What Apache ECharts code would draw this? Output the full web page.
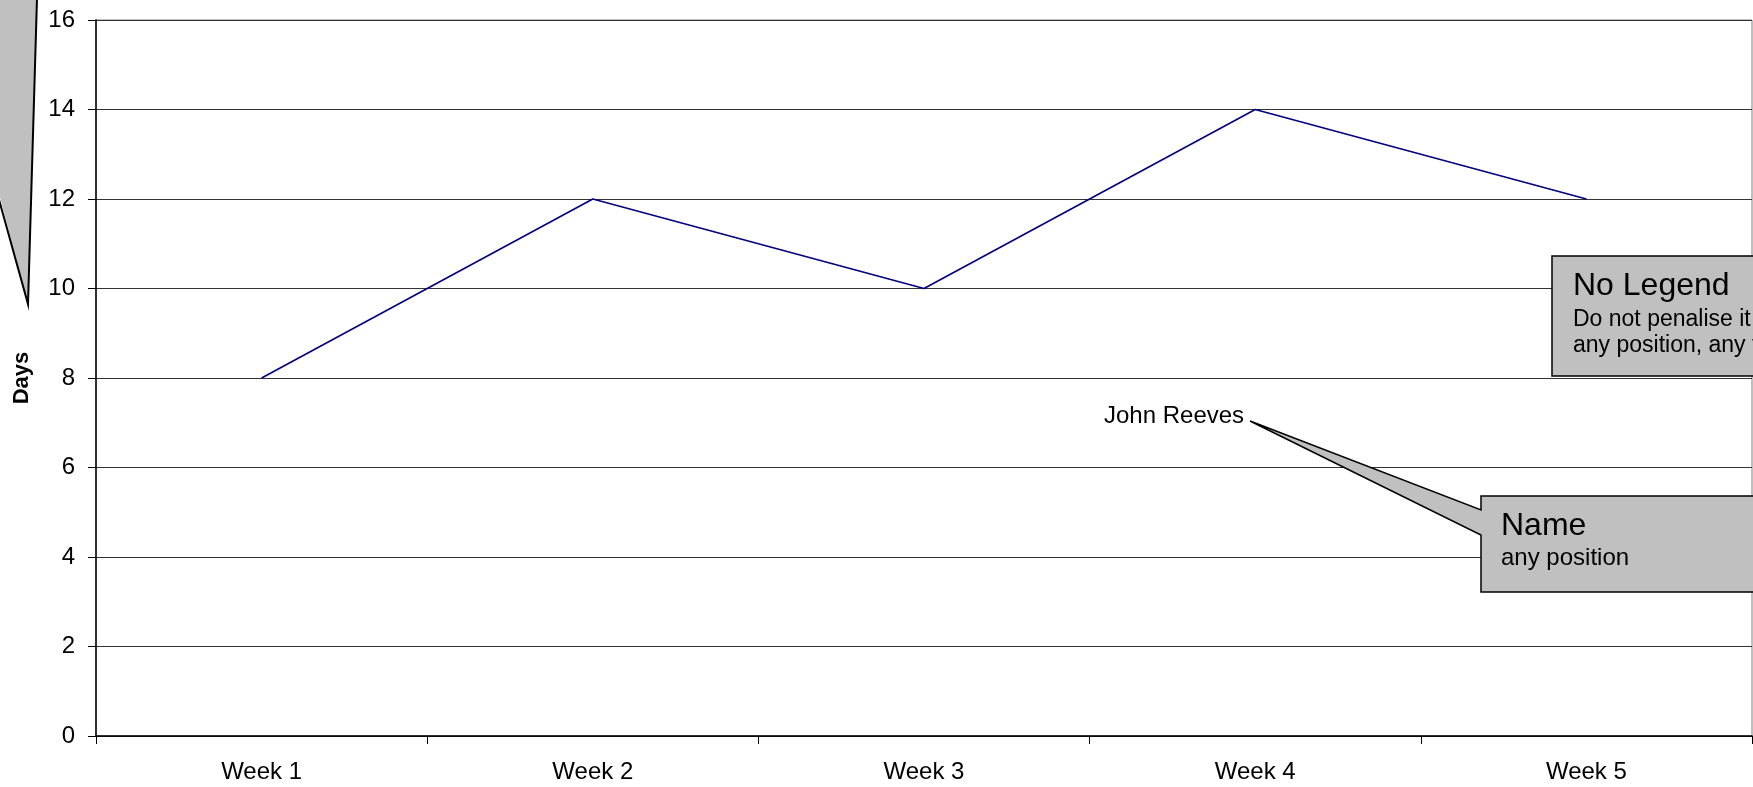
<!DOCTYPE html>
<html>
<head>
<meta charset="utf-8">
<script src="https://cdn.jsdelivr.net/npm/echarts@6/dist/echarts.min.js"></script>
<style>
html,body{margin:0;padding:0;background:#fff;}
#chart{width:1753px;height:787px;}
</style>
</head>
<body>
<div id="chart"></div>
<script>
var categories = ['Week 1', 'Week 2', 'Week 3', 'Week 4', 'Week 5'];
var days = [8, 12, 10, 14, 12];
var seriesName = 'John Reeves';
var yTicks = { min: 0, max: 16, interval: 2 };

var FONT = '"Liberation Sans", Arial, sans-serif';
var chart = echarts.init(document.getElementById('chart'), null, { renderer: 'canvas' });

chart.setOption({
  backgroundColor: '#ffffff',
  animation: false,
  grid: {
    left: 96, top: 20, right: 1, bottom: 51,
    containLabel: false,
    outerBoundsMode: 'none',
    show: true, borderColor: '#808080', borderWidth: 1, backgroundColor: 'transparent'
  },
  xAxis: {
    type: 'category',
    data: categories,
    boundaryGap: true,
    axisLine: { show: true, lineStyle: { color: '#000', width: 1.5 } },
    axisTick: { show: true, length: 8, lineStyle: { color: '#000', width: 1 } },
    axisLabel: { color: '#000', fontFamily: FONT, fontSize: 24, margin: 24 },
    splitLine: { show: false }
  },
  yAxis: {
    type: 'value',
    min: yTicks.min, max: yTicks.max, interval: yTicks.interval,
    name: 'Days',
    nameLocation: 'middle',
    nameRotate: 90,
    nameGap: 63,
    nameTextStyle: { color: '#000', fontFamily: FONT, fontSize: 22, fontWeight: 'bold' },
    axisLine: { show: true, lineStyle: { color: '#000', width: 1.5 } },
    axisTick: { show: true, length: 8, lineStyle: { color: '#000', width: 1 } },
    axisLabel: { color: '#000', fontFamily: FONT, fontSize: 24, margin: 21 },
    splitLine: { show: true, lineStyle: { color: '#333', width: 1 } }
  },
  series: [{
    name: seriesName,
    type: 'line',
    data: days,
    symbol: 'none',
    lineStyle: { color: '#000080', width: 1.6 },
    z: 5
  }],
  graphic: [
    { type: 'polygon', z: 100, shape: { points: [[0,0],[37,0],[28,304],[0,197]] },
      style: { fill: '#c0c0c0', stroke: null } },
    { type: 'polyline', z: 101, shape: { points: [[37,-2],[28,304],[-2,196]] },
      style: { stroke: '#000', lineWidth: 2, fill: null } },
    { type: 'rect', z: 100, shape: { x: 1552, y: 256, width: 240, height: 120 },
      style: { fill: '#c0c0c0', stroke: '#000', lineWidth: 1.5 } },
    { type: 'text', z: 102, left: 1573, top: 270,
      style: { text: 'No Legend', fontFamily: FONT, fontSize: 32, fill: '#000' } },
    { type: 'text', z: 102, left: 1573, top: 308,
      style: { text: 'Do not penalise it', fontFamily: FONT, fontSize: 23, fill: '#000' } },
    { type: 'text', z: 102, left: 1573, top: 334,
      style: { text: 'any position, any format', fontFamily: FONT, fontSize: 23, fill: '#000' } },
    { type: 'polygon', z: 100,
      shape: { points: [[1481,496],[1770,496],[1770,592],[1481,592],[1481,535],[1250,421],[1481,510]] },
      style: { fill: '#c0c0c0', stroke: '#000', lineWidth: 1.5 } },
    { type: 'text', z: 102, left: 1501, top: 510,
      style: { text: 'Name', fontFamily: FONT, fontSize: 32, fill: '#000' } },
    { type: 'text', z: 102, left: 1501, top: 546,
      style: { text: 'any position', fontFamily: FONT, fontSize: 24, fill: '#000' } },
    { type: 'text', z: 102, left: 1104, top: 404,
      style: { text: seriesName, fontFamily: FONT, fontSize: 24, fill: '#000' } }
  ]
});
</script>
</body>
</html>
